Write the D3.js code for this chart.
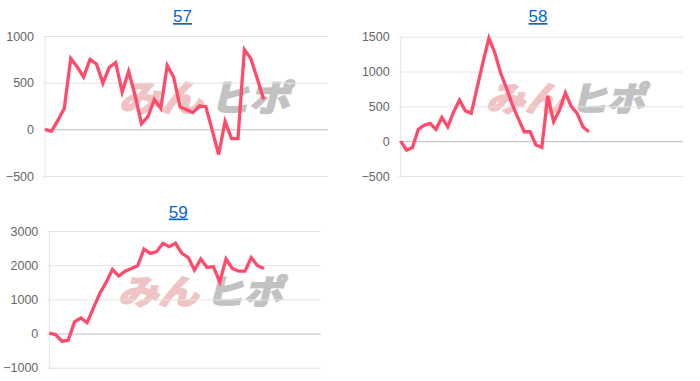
<!DOCTYPE html>
<html><head><meta charset="utf-8">
<script src="https://cdn.jsdelivr.net/npm/d3@7"></script>
<style>
html,body{margin:0;padding:0;background:#fff;}
svg{display:block;font-family:"Liberation Sans",Arial,Helvetica,sans-serif;}
</style></head>
<body>
<svg id="c" width="700" height="381"></svg>
<script>
// ---- data ----
const titles = ["57", "58", "59"];
const series57 = [0, -20, 95, 225, 760, 670, 560, 750, 700, 495, 665, 715, 400, 620, 365, 60, 135, 320, 225, 685, 560, 240, 210, 180, 250, 245, -10, -270, 85, -100, -100, 855, 760, 545, 320];
const series58 = [0, -130, -90, 170, 230, 255, 170, 340, 205, 420, 590, 435, 400, 770, 1140, 1480, 1270, 975, 760, 520, 325, 135, 135, -55, -90, 650, 280, 445, 695, 500, 400, 205, 135];
const series59 = [10, -30, -225, -195, 340, 455, 320, 750, 1170, 1495, 1875, 1680, 1825, 1905, 1980, 2470, 2345, 2395, 2640, 2540, 2640, 2345, 2230, 1860, 2180, 1935, 1955, 1510, 2180, 1905, 1825, 1825, 2220, 1985, 1905];
const ticks57 = [-500, 0, 500, 1000];
const ticks58 = [-500, 0, 500, 1000, 1500];
const ticks59 = [-1000, 0, 1000, 2000, 3000];
const slots = [44, 48, 43];

// ---- layout ----
const panels = [
  {title: titles[0], data: series57, ticks: ticks57, slots: slots[0], x0: 45, x1: 328, y0: 36, y1: 176, tx: 182.5, ty: 22, wm: [113, 80, 174, 32]},
  {title: titles[1], data: series58, ticks: ticks58, slots: slots[1], x0: 400.7, x1: 683, y0: 36.7, y1: 176, tx: 538, ty: 22, wm: [480, 82, 162, 30]},
  {title: titles[2], data: series59, ticks: ticks59, slots: slots[2], x0: 49.3, x1: 320.7, y0: 231, y1: 367.7, tx: 178.3, ty: 217.5, wm: [112, 275, 168, 30]}
];

const svg = d3.select("#c");

panels.forEach(p => {
  const g = svg.append("g");
  const x = d3.scaleLinear().domain([0, p.slots]).range([p.x0, p.x1]);
  const y = d3.scaleLinear().domain(d3.extent(p.ticks)).range([p.y1, p.y0]);

  // watermark
  const [wx, wy, ww, wh] = p.wm;
  const wmg = g.append("g").attr("transform", `translate(${wx + 6},${wy + wh - 1}) skewX(-14)`);
  wmg.append("text").attr("x", 0).attr("y", 0)
    .attr("font-family", "'Noto Sans CJK JP'").attr("font-weight", "bold")
    .attr("font-size", wh * 1.12).attr("fill", "#f0c4c4")
    .attr("stroke", "#f0c4c4").attr("stroke-width", 2.2)
    .attr("textLength", ww * 0.48).attr("lengthAdjust", "spacingAndGlyphs")
    .text("みん");
  wmg.append("text").attr("x", ww * 0.52).attr("y", 0)
    .attr("font-family", "'Noto Sans CJK JP'").attr("font-weight", "bold")
    .attr("font-size", wh * 1.12).attr("fill", "#c2c2c2")
    .attr("stroke", "#c2c2c2").attr("stroke-width", 2.2)
    .attr("textLength", ww * 0.46).attr("lengthAdjust", "spacingAndGlyphs")
    .text("ヒポ");

  // y axis with gridlines
  const ax = d3.axisLeft(y).tickValues(p.ticks).tickSize(-(p.x1 - p.x0) - 2).tickPadding(9).tickFormat(d3.format("d"));
  const ag = g.append("g").attr("transform", `translate(${p.x0 - 2},0)`).call(ax);
  ag.select(".domain").remove();
  ag.selectAll(".tick line").attr("stroke", d => d === 0 ? "#bdbdbd" : "#e4e4e4").attr("stroke-width", 1);
  ag.selectAll(".tick text").attr("fill", "#666").attr("font-size", 12.5)
    .attr("font-family", "'Liberation Sans',Arial,sans-serif");
  // left vertical axis line
  g.append("line").attr("x1", p.x0).attr("x2", p.x0).attr("y1", p.y0).attr("y2", p.y1 + 2)
    .attr("stroke", "#e4e4e4");

  // line
  const line = d3.line().x((d, i) => x(i)).y(d => y(d));
  g.append("path").datum(p.data).attr("d", line)
    .attr("fill", "none").attr("stroke", "#ff4b6b").attr("stroke-width", 3.3)
    .attr("stroke-linejoin", "miter");

  // title
  g.append("text").attr("x", p.tx).attr("y", p.ty).attr("text-anchor", "middle")
    .attr("font-size", 17).attr("fill", "#0a64d0")
    .attr("text-decoration", "underline").text(p.title);
});
</script>
</body></html>
